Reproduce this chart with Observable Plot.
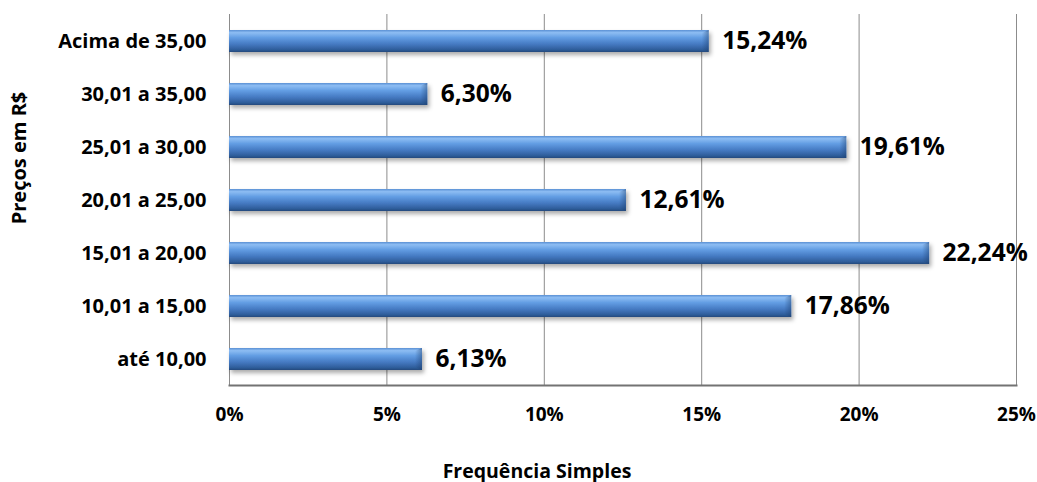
<!DOCTYPE html>
<html>
<head>
<meta charset="utf-8">
<script src="https://cdn.jsdelivr.net/npm/d3@7"></script>
<script src="https://cdn.jsdelivr.net/npm/@observablehq/plot@0.6"></script>
<style>
  body { margin: 0; background: #fff; }
  #chart svg { display: block; }
</style>
</head>
<body>
<div id="chart"></div>
<script>
// Price ranges (R$), listed bottom to top as they appear on the axis
const faixas = ["até 10,00", "10,01 a 15,00", "15,01 a 20,00", "20,01 a 25,00",
                "25,01 a 30,00", "30,01 a 35,00", "Acima de 35,00"];
// Simple frequency (%) for each range
const frequencias = [6.13, 17.86, 22.24, 12.61, 19.61, 6.30, 15.24];
// X axis ticks (%)
const ticksX = [0, 5, 10, 15, 20, 25];

const dados = faixas.map((f, i) => ({faixa: f, valor: frequencias[i]}));
const fmtPct = v => v.toFixed(2).replace(".", ",") + "%";
const fonte = "'Open Sans', sans-serif";
const grid = "#8c8c8c";

const plot = Plot.plot({
  width: 1037,
  height: 482,
  marginLeft: 229,
  marginRight: 21,
  marginTop: 14,
  marginBottom: 97,
  style: {fontFamily: fonte, fontWeight: "bold", color: "#000", background: "#fff"},
  x: {domain: [0, 25], label: null},
  y: {
    domain: faixas.slice().reverse(),
    paddingInner: 0.585,
    paddingOuter: 0.2925,
    label: null
  },
  marks: [
    Plot.gridX(ticksX, {stroke: grid, strokeOpacity: 1}),
    // bottom edge of the frame
    Plot.frame({anchor: "bottom", stroke: "#737373", strokeWidth: 2}),
    Plot.axisX({ticks: ticksX, tickFormat: d => d + "%", tickSize: 0, tickPadding: 22,
      fontSize: 19, fontWeight: "bold", label: null}),
    Plot.axisY({tickSize: 0, tickPadding: 23, fontSize: 20, fontWeight: "bold", label: null}),
    Plot.barX(dados, {x: "valor", y: "faixa", fill: "#4a84cc"}),
    Plot.text(dados, {x: "valor", y: "faixa", text: d => fmtPct(d.valor),
      textAnchor: "start", dx: 13, fontSize: 24.5, fontWeight: "bold"}),
    Plot.text(["Frequência Simples"], {frameAnchor: "bottom", dx: -86, dy: 92,
      fontSize: 19.5, fontWeight: "bold"}),
    Plot.text(["Preços em R$"], {frameAnchor: "left", dx: -210, dy: -42, rotate: -90,
      textAnchor: "middle", fontSize: 20, fontWeight: "bold"})
  ]
});

const NS = "http://www.w3.org/2000/svg";
const svg = plot.tagName.toLowerCase() === "svg" ? plot : plot.querySelector("svg");

// Gradient + shadow definitions for the bars
const defs = document.createElementNS(NS, "defs");
defs.innerHTML = `
  <linearGradient id="barGrad" x1="0" y1="0" x2="0" y2="1">
    <stop offset="0" stop-color="#5b90d4"/>
    <stop offset="0.12" stop-color="#8dbdf3"/>
    <stop offset="0.35" stop-color="#629de3"/>
    <stop offset="0.65" stop-color="#4479c1"/>
    <stop offset="0.9" stop-color="#2e5c99"/>
    <stop offset="1" stop-color="#24497c"/>
  </linearGradient>
  <linearGradient id="endGrad" x1="0" y1="0" x2="1" y2="0">
    <stop offset="0" stop-color="#1c3d6b" stop-opacity="0"/>
    <stop offset="1" stop-color="#1c3d6b" stop-opacity="0.45"/>
  </linearGradient>
  <filter id="barShadow" x="-5%" y="-30%" width="110%" height="190%">
    <feDropShadow dx="2" dy="3" stdDeviation="2" flood-color="#000" flood-opacity="0.33"/>
  </filter>`;
svg.insertBefore(defs, svg.firstChild);

// Cylinder-like shading on each bar, with a darker bevel at its end
svg.querySelectorAll('g[aria-label="bar"] rect').forEach(r => {
  r.setAttribute("fill", "url(#barGrad)");
  r.setAttribute("filter", "url(#barShadow)");
  const x = +r.getAttribute("x"), w = +r.getAttribute("width");
  const y = +r.getAttribute("y"), h = +r.getAttribute("height");
  const bevel = document.createElementNS(NS, "polygon");
  bevel.setAttribute("points",
    `${x + w - 7},${y + 3} ${x + w},${y} ${x + w},${y + h} ${x + w - 7},${y + h - 3}`);
  bevel.setAttribute("fill", "url(#endGrad)");
  r.parentNode.appendChild(bevel);
});

document.getElementById("chart").appendChild(plot);
</script>
</body>
</html>
